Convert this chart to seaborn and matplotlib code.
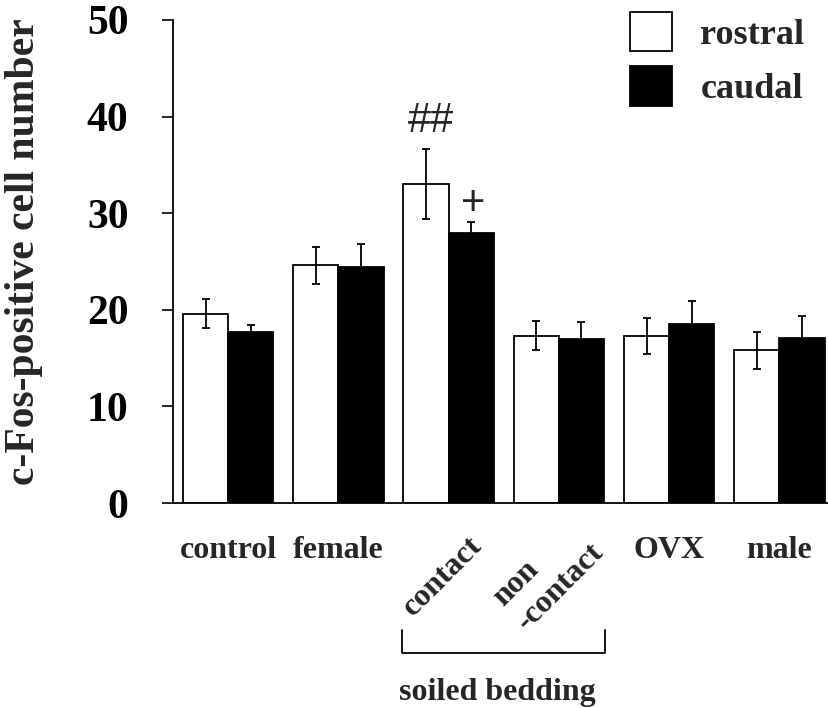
import matplotlib
matplotlib.use("Agg")
import matplotlib.pyplot as plt
from matplotlib.patches import Patch
import matplotlib.transforms as mtransforms
import seaborn as sns
import pandas as pd
import numpy as np

groups = ["control", "female", "contact", "non-contact", "OVX", "male"]
tick_labels = ["control", "female", "", "", "OVX", "male"]
rostral = [19.6, 24.6, 33.0, 17.3, 17.3, 15.8]
rostral_err = [1.5, 1.9, 3.6, 1.5, 1.9, 1.9]
caudal = [17.7, 24.4, 28.0, 17.0, 18.5, 17.1]
caudal_err = [0.7, 2.4, 1.1, 1.7, 2.4, 2.3]
regions = ["rostral", "caudal"]

df = pd.DataFrame({
    "group": groups * 2,
    "region": ["rostral"] * 6 + ["caudal"] * 6,
    "value": rostral + caudal,
})

sns.set_style("white")
plt.rcParams["font.family"] = ["Liberation Serif", "DejaVu Sans"]

fig = plt.figure(figsize=(8.29, 7.08), dpi=100)
ax = fig.add_axes([173 / 829, 1 - 503 / 708, 1 - 173 / 829, 483 / 708])

sns.barplot(data=df, x="group", y="value", hue="region", order=groups,
            hue_order=regions, palette={"rostral": "white", "caudal": "black"},
            edgecolor="black", linewidth=1.3, width=0.82, errorbar=None,
            legend=False, ax=ax)

for cont, errs in zip(ax.containers, [rostral_err, caudal_err]):
    xs = [p.get_x() + p.get_width() / 2 for p in cont]
    hs = [p.get_height() for p in cont]
    ax.errorbar(xs, hs, yerr=errs, fmt="none", ecolor="black",
                elinewidth=1.3, capsize=3, capthick=1.3, zorder=5)

ax.set_ylim(0, 50)
ax.set_xlim(-0.5, 5.45)
ax.set_yticks([0, 10, 20, 30, 40, 50])
ax.set_yticklabels(["0", "10", "20", "30", "40", "50"], fontsize=30,
                   fontweight="bold")
ax.tick_params(axis="y", direction="out", length=8, width=1.2, pad=24,
               left=True, colors="black")
ax.set_xticks(range(len(groups)))
ax.set_xticklabels(tick_labels, fontsize=23, fontweight="bold")
ax.tick_params(axis="x", length=0, pad=24)
for s in ["top", "right"]:
    ax.spines[s].set_visible(False)
for s in ["left", "bottom"]:
    ax.spines[s].set_color("black")
    ax.spines[s].set_linewidth(1.3)
ax.set_xlabel("")
ax.set_ylabel("c-Fos-positive cell number", fontsize=30, fontweight="bold")
ax.yaxis.set_label_coords(-0.198, 0.52)

trans = mtransforms.blended_transform_factory(ax.transData, ax.transAxes)
ax.text(1.95, -0.153, "contact", rotation=45, rotation_mode="anchor",
        ha="center", va="center", fontsize=23, fontweight="bold",
        transform=trans)
ax.text(2.904, -0.149, "non\n-contact", rotation=45, rotation_mode="anchor",
        ha="center", va="center", fontsize=23, fontweight="bold",
        transform=trans, linespacing=1.2, multialignment="left")
bx0, bx1 = 1.579, 3.42
ax.plot([bx0, bx0, bx1, bx1], [-0.263, -0.311, -0.311, -0.263], color="black",
        lw=1.3, transform=trans, clip_on=False)
ax.text(2.44, -0.408, "soiled bedding", ha="center", va="baseline",
        fontsize=23, fontweight="bold", transform=trans)

# significance marks
r_cont = ax.containers[0][2]
c_cont = ax.containers[1][2]
ax.text(r_cont.get_x() + r_cont.get_width() / 2 + 0.045,
        rostral[2] + rostral_err[2] + 1.8,
        "##", ha="center", va="baseline", fontsize=30, family="Liberation Sans")
ax.text(c_cont.get_x() + c_cont.get_width() / 2 + 0.02,
        caudal[2] + caudal_err[2] + 0.7,
        "+", ha="center", va="baseline", fontsize=30, family="Liberation Sans")

handles = [Patch(facecolor="white", edgecolor="black", linewidth=1.3),
           Patch(facecolor="black", edgecolor="black", linewidth=1.3)]
leg = ax.legend(handles, regions, loc="upper left",
                bbox_to_anchor=((630 - 173) / 656, (503 - 12) / 483),
                frameon=False, borderpad=0, borderaxespad=0,
                handlelength=1.17, handleheight=1.3, handletextpad=0.78,
                labelspacing=0.4, prop={"size": 26, "weight": "bold",
                                        "family": "Liberation Serif"})

fig.savefig("out.png", dpi=100)
